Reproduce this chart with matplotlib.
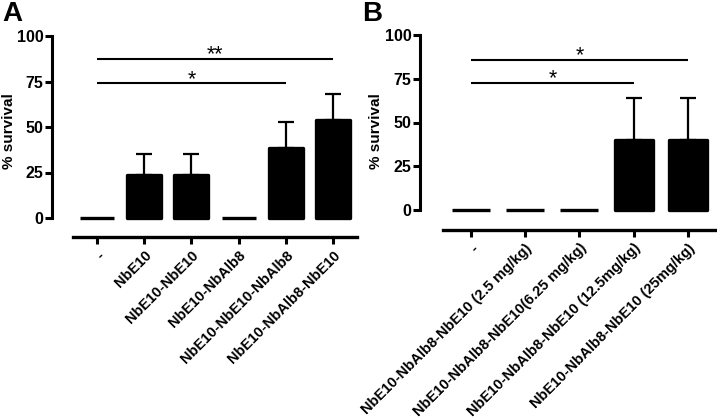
import matplotlib
matplotlib.use("Agg")
import matplotlib.pyplot as plt
import numpy as np

plt.rcParams['font.family'] = ['Liberation Sans', 'DejaVu Sans']
plt.rcParams['font.weight'] = 'bold'

# Panel A data
cats_a = ["-", "NbE10", "NbE10-NbE10", "NbE10-NbAlb8", "NbE10-NbE10-NbAlb8", "NbE10-NbAlb8-NbE10"]
vals_a = [0, 23.5, 23.5, 0, 38.5, 54]
err_a = [0, 11.5, 11.5, 0, 14, 14]
sig_a = [(0, 5, 87.5, "**"), (0, 4, 74, "*")]

# Panel B data
cats_b = ["-", "NbE10-NbAlb8-NbE10 (2.5 mg/kg)", "NbE10-NbAlb8-NbE10(6.25 mg/kg)",
          "NbE10-NbAlb8-NbE10 (12.5mg/kg)", "NbE10-NbAlb8-NbE10 (25mg/kg)"]
vals_b = [0, 0, 0, 40, 40]
err_b = [0, 0, 0, 24, 24]
sig_b = [(0, 4, 86, "*"), (0, 3, 72.5, "*")]

yticks = [0, 25, 50, 75, 100]

fig = plt.figure(figsize=(7.17, 4.18), dpi=100)

W, H = 717, 418

def make_axes(left_px, right_px, bottom_px, top_px):
    return fig.add_axes([left_px / W, (H - bottom_px) / H,
                         (right_px - left_px) / W, (bottom_px - top_px) / H])

def draw_panel(ax, cats, vals, errs, sigs, xlim, ylim, xbound, barw):
    x = np.arange(len(cats))
    ax.bar(x, vals, width=barw, color='black', edgecolor='black', linewidth=2.4,
           joinstyle='round', zorder=3)
    for xi, v, e in zip(x, vals, errs):
        if e > 0:
            ax.errorbar([xi], [v], yerr=[[0], [e]], fmt='none', ecolor='black',
                        elinewidth=1.6, capsize=6, capthick=1.6, zorder=2)
    for (i0, i1, y, s) in sigs:
        ax.plot([i0, i1], [y, y], color='black', lw=1.5, solid_capstyle='butt')
        ax.text((i0 + i1) / 2, y - 3.6, s, ha='center', va='bottom',
                fontsize=15.5, fontweight='normal')
    ax.set_xlim(*xlim)
    ax.set_ylim(*ylim)
    ax.set_yticks(yticks)
    ax.set_yticklabels([str(t) for t in yticks], fontsize=11.5, fontweight='bold')
    ax.set_xticks(x)
    ax.set_xticklabels(cats, rotation=45, ha='right', va='top', rotation_mode='anchor',
                       fontsize=10.5, fontweight='bold')
    for sp in ['top', 'right']:
        ax.spines[sp].set_visible(False)
    ax.spines['left'].set_bounds(0, 100)
    ax.spines['bottom'].set_bounds(*xbound)
    ax.spines['left'].set_linewidth(2.2)
    ax.spines['bottom'].set_linewidth(2.4)
    ax.tick_params(axis='y', width=2.2, length=5, pad=1)
    ax.tick_params(axis='x', width=2.2, length=5, pad=3)
    ax.set_ylabel("% survival", fontsize=11, fontweight='bold')

# Panel A
axA = make_axes(52, 357, 237, 30)
pxA = 1.82
draw_panel(axA, cats_a, vals_a, err_a, sig_a,
           xlim=(-0.953, 5.51), ylim=(-19 / pxA, (218 - 30) / pxA),
           xbound=(-0.51, 5.51), barw=0.72)
axA.yaxis.set_label_coords((16 - 52) / 305, (237 - 131) / 207)

# Panel B
axB = make_axes(420, 715, 230, 30)
pxB = 1.75
draw_panel(axB, cats_b, vals_b, err_b, sig_b,
           xlim=(-0.941, 4.50), ylim=(-20 / pxB, (210 - 30) / pxB),
           xbound=(-0.517, 4.50), barw=0.70)
axB.yaxis.set_label_coords((383 - 420) / 295, (230 - 131.5) / 200)

fig.text(2 / W, 1 - 1 / H, "A", fontsize=20, fontweight='bold', ha='left', va='top')
fig.text(362 / W, 1 - 1 / H, "B", fontsize=20, fontweight='bold', ha='left', va='top')

fig.savefig("out.png", dpi=100)
